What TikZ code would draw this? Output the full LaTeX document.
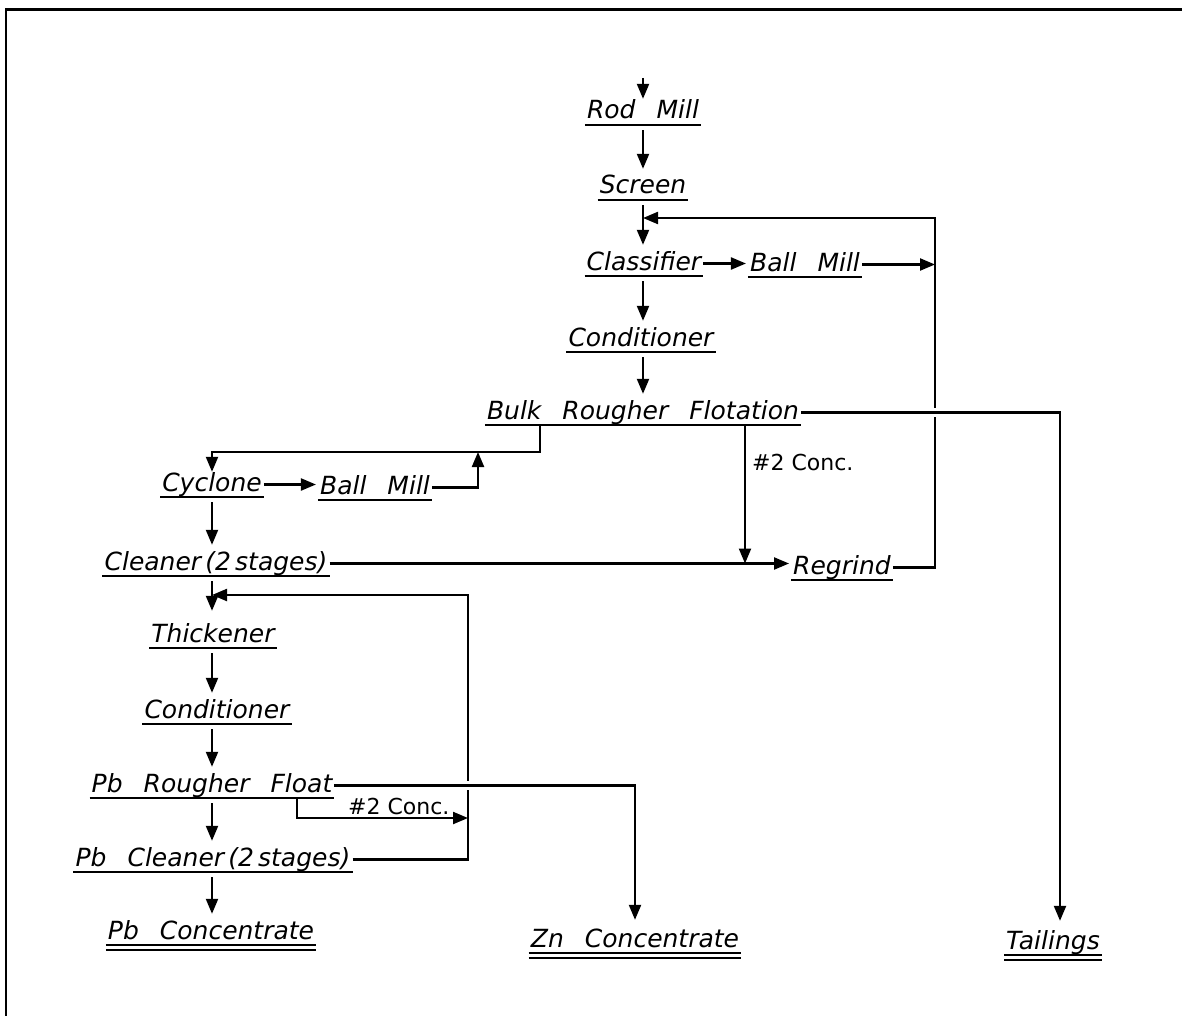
\documentclass[tikz,border=0pt]{standalone}
\usepackage{fontspec}
\usetikzlibrary{arrows.meta,calc}
\newfontfamily\lab{DejaVu Sans}
\newcommand\widesp{\spaceskip=21pt plus 2pt minus 2pt\relax}
\begin{document}
\begin{tikzpicture}[x=1pt,y=-1pt,
  proc/.style={font=\lab\itshape\fontsize{25}{30}\selectfont\widesp,
    inner xsep=2pt, inner ysep=0pt, text height=19pt, text depth=6pt, anchor=base},
  note/.style={font=\lab\fontsize{22}{26}\selectfont, inner sep=0pt, anchor=west},
  ln/.style={line width=2.2pt},
  arr/.style={ln, -{Triangle[length=15pt,width=12pt]}},
  uline/.style={line width=2.2pt},
  gap/.style={white, line width=9pt},
  vstep/.style={arr, shorten <=5pt, shorten >=6pt}]
\useasboundingbox (0,0) rectangle (1182,1016);
\draw[line width=2.5pt] (6,1016) -- (6,9.5) -- (1182,9.5);

% process nodes
\node[proc] (rod)    at (643,119) {Rod Mill};
\node[proc] (screen) at (643,194) {Screen};
\node[proc] (class)  at (644,270) {Classifier};
\node[proc] (bm1)    at (805,271) {Ball Mill};
\node[proc] (cond1)  at (641,346) {Conditioner};
\node[proc] (bulk)   at (643,419) {Bulk Rougher Flotation};
\node[proc] (cyc)    at (212,491) {Cyclone};
\node[proc] (bm2)    at (375,494) {Ball Mill};
\node[proc] (clean)  at (216,570) {Cleaner\,(2\,stages)};
\node[proc] (regr)   at (842,574) {Regrind};
\node[proc] (thick)  at (213,642) {Thickener};
\node[proc] (cond2)  at (217,718) {Conditioner};
\node[proc] (pbr)    at (212,792) {Pb Rougher Float};
\node[proc] (pbc)    at (213,866) {Pb Cleaner\,(2\,stages)};
\node[proc] (pbconc) at (211,939) {Pb Concentrate};
\node[proc] (zn)     at (635,947) {Zn Concentrate};
\node[proc] (tail)   at (1053,949) {Tailings};

\foreach \n in {rod,screen,class,bm1,cond1,bulk,cyc,bm2,clean,regr,thick,cond2,pbr,pbc}
  \draw[uline] (\n.south west) -- (\n.south east);
\foreach \n in {pbconc,zn,tail}{
  \draw[uline] (\n.south west) -- (\n.south east);
  \draw[uline] ($(\n.south west)+(0,5)$) -- ($(\n.south east)+(0,5)$);}

% coordinates for free ends and corners
\coordinate (in) at (643,78);
\coordinate (mc) at (643,0);
\coordinate (fbR) at (935,218);
\coordinate (tc) at (1060,0);
\coordinate (b1) at (540,425);
\coordinate (b2) at (540,452);
\coordinate (b3) at (478,452);
\coordinate (c1) at (745,425);
\coordinate (f2) at (468,595);
\coordinate (p1) at (297,798);
\coordinate (p2) at (297,818);

% main column
\draw[arr, shorten >=1pt] (in) -- (in |- rod.north);
\draw[vstep] (mc |- rod.south) -- (mc |- screen.north);
\draw[vstep] (mc |- screen.south) -- (mc |- class.north);
\draw[vstep] (mc |- class.south) -- (mc |- cond1.north);
\draw[vstep] (mc |- cond1.south) -- (mc |- bulk.north);
\draw[arr, shorten >=2pt] (class.east) -- (class.east -| bm1.west);
\draw[arr] (bm1.east) -- (bm1.east -| fbR);
\draw[arr] (regr.east) -- (regr.east -| fbR) -- (fbR) -- (fbR -| mc);

% bulk -> tailings (crossing gap)
\draw[gap] (bulk.east) -- (bulk.east -| fbR) -- +(7,0);
\draw[arr, shorten >=9pt] (bulk.east) -- (bulk.east -| tc) -- (tc |- tail.north);

% bulk -> cyclone circuit
\draw[arr] (b1) -- (b2) -- (b2 -| cyc.north) -- (cyc.north);
\draw[arr, shorten >=2pt] (cyc.east) -- (cyc.east -| bm2.west);
\draw[arr] (bm2.east) -- (bm2.east -| b3) -- (b3);
\draw[vstep] (cyc.south) -- (cyc.south |- clean.north);
\draw[arr, shorten >=2pt] (clean.east) -- (clean.east -| regr.west);
\draw[arr] (c1) -- (c1 |- clean.east);
\node[note] (lab1) at (752,462) {\#2 Conc.};

% lead circuit
\draw[arr] (pbc.east) -- (pbc.east -| f2) -- (f2) -- (f2 -| cyc.north);
\draw[arr, shorten <=5pt, shorten >=12pt] (cyc.north |- clean.south) -- (cyc.north |- thick.north);
\draw[vstep] (cyc.north |- thick.south) -- (cyc.north |- cond2.north);
\draw[vstep] (cyc.north |- cond2.south) -- (cyc.north |- pbr.north);
\draw[gap] (pbr.east -| f2) ++(-7,0) -- ++(14,0);
\draw[arr, shorten >=8pt] (pbr.east) -- (pbr.east -| zn.north) -- (zn.north);
\draw[arr] (p1) -- (p2) -- (p2 -| f2);
\node[note] (lab2) at (348,806) {\#2 Conc.};
\draw[vstep] (cyc.north |- pbr.south) -- (cyc.north |- pbc.north);
\draw[vstep] (cyc.north |- pbc.south) -- (cyc.north |- pbconc.north);
\end{tikzpicture}
\end{document}
